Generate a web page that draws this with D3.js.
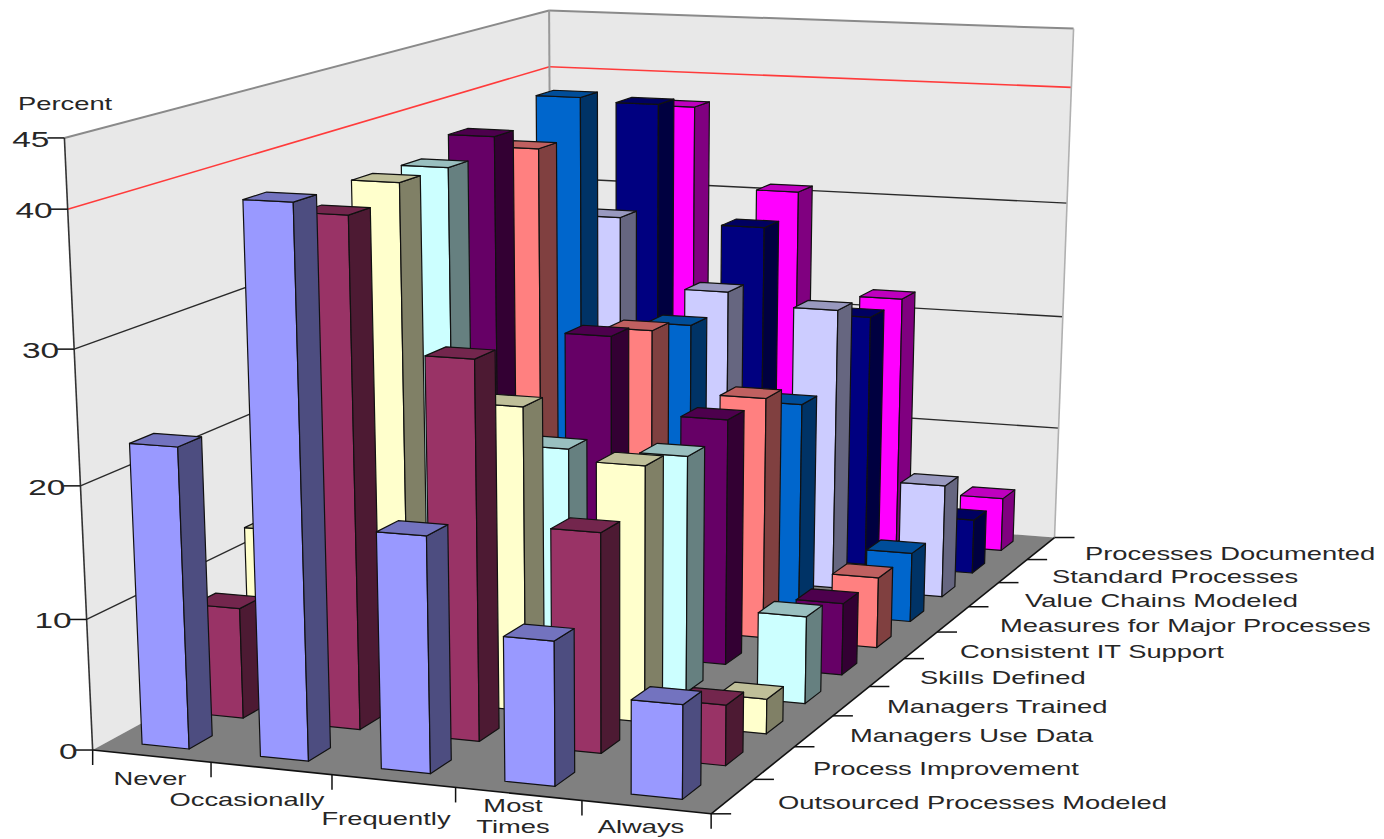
<!DOCTYPE html>
<html><head><meta charset="utf-8">
<script src="https://cdn.jsdelivr.net/npm/d3@7/dist/d3.min.js"></script>
<style>html,body{margin:0;background:#fff}svg{display:block}text{font-family:"Liberation Sans",Arial,sans-serif;fill:#262626}</style>
</head><body><svg id="c" width="1384" height="839"></svg>
<script>
const categories=["Never","Occasionally","Frequently","Most Times","Always"];
const rows=["Outsourced Processes Modeled","Process Improvement","Managers Use Data","Managers Trained","Skills Defined","Consistent IT Support","Measures for Major Processes","Value Chains Modeled","Standard Processes","Processes Documented"];
const colors=["#9999FF","#993366","#FFFFCC","#CCFFFF","#660066","#FF8080","#0066CC","#CCCCFF","#000080","#FF00FF"];
const valueTicks=[0,10,20,30,40,45];

// Percent of respondents per answer, one list per practice
const outsourced=[22.8,40.9,17.7,10.8,7.0];
const improvement=[8.6,38.7,28.8,16.7,4.6];
const useData=[12.6,39.8,23.6,19.8,2.7];
const trained=[16,39.7,18.6,18.7,6.9];
const skills=[7,40.9,25.8,19.8,5.8];
const itSupport=[11,38.8,24.7,19.8,5.8];
const measures=[11,41.8,23.6,17.6,5.8];
const valueChains=[11,30.7,24.9,23.9,9.6];
const standard=[1,39.1,29.0,21.8,4.7];
const documented=[1,37.8,30.8,21.9,4.7];
const series=[outsourced,improvement,useData,trained,skills,itSupport,measures,valueChains,standard,documented];

// Box coordinates (category, depth, percent) and where they land on screen;
// the camera matrix is fitted to these by least squares.
const cameraAnchors=[[0,0,0,93,751],[0,0,10,89,618],[0,0,20,84,484],[0,0,30,76,350],[0,0,40,66.5,209],[0,0,45,62.5,138],
[0,10,45,549,10],[0,10,40,549,66],[5,10,45,1075,28],[5,10,40,1072,88],[5,10,30,1066,205],[5,10,20,1061,318],[5,10,10,1057,428],[5,10,0,1056,537],
[1,0,0,208,765],[2,0,0,331,776],[3,0,0,453,788],[4,0,0,580,800],[5,0,0,707,813],
[5,1,0,767,778],[5,2,0,793,746],[5,3,0,832,717],[5,4,0,867,686],[5,5,0,902,658],[5,6,0,936,632],[5,7,0,969,607],[5,8,0,1000,582],[5,9,0,1029,559]];

function fitCamera(pts){
  const n=11,A=Array.from({length:n},()=>Array(n+1).fill(0));
  const add=(r,b)=>{for(let i=0;i<n;i++){for(let j=0;j<n;j++)A[i][j]+=r[i]*r[j];A[i][n]+=r[i]*b;}};
  pts.forEach(([X,Y,Z,x,y])=>{X/=5;Y/=10;Z/=45;x/=1000;y/=1000;
    add([X,Y,Z,1,0,0,0,0,-x*X,-x*Y,-x*Z],x);
    add([0,0,0,0,X,Y,Z,1,-y*X,-y*Y,-y*Z],y);});
  for(let i=0;i<n;i++){
    let p=i;for(let k=i+1;k<n;k++)if(Math.abs(A[k][i])>Math.abs(A[p][i]))p=k;
    [A[i],A[p]]=[A[p],A[i]];
    for(let k=0;k<n;k++)if(k!==i){const f=A[k][i]/A[i][i];for(let j=i;j<=n;j++)A[k][j]-=f*A[i][j];}
  }
  return A.map((r,i)=>r[n]/r[i]);
}
const cam=fitCamera(cameraAnchors);
function proj(X,Y,Z){
  X/=5;Y/=10;Z/=45;
  const w=cam[8]*X+cam[9]*Y+cam[10]*Z+1;
  return [1000*(cam[0]*X+cam[1]*Y+cam[2]*Z+cam[3])/w,1000*(cam[4]*X+cam[5]*Y+cam[6]*Z+cam[7])/w];
}
const poly=a=>a.map(p=>proj(...p).join(",")).join(" ");

const xBand=d3.scaleBand(categories,[-.02,4.98]).paddingInner(.6).paddingOuter(.3);
const depthBand=d3.scaleBand(rows,[0,10]).paddingInner(.58).paddingOuter(.29);
const svg=d3.select("#c");

// Walls and floor
const wallFill="#E8E8E8",edge="#8a8a8a";
svg.append("polygon").attr("points",poly([[0,0,0],[0,10,0],[0,10,45],[0,0,45]])).attr("fill",wallFill);
svg.append("polygon").attr("points",poly([[0,10,0],[5,10,0],[5,10,45],[0,10,45]])).attr("fill",wallFill);
svg.append("polygon").attr("points",poly([[0,0,0],[5,0,0],[5,10,0],[0,10,0]])).attr("fill","#808080");

const seg=(a,b,stroke,w)=>{const p=proj(...a),q=proj(...b);
  svg.append("line").attr("x1",p[0]).attr("y1",p[1]).attr("x2",q[0]).attr("y2",q[1]).attr("stroke",stroke).attr("stroke-width",w);};

// Wall gridlines; the 40% line is the red reference level
valueTicks.filter(v=>v>0&&v<45).forEach(v=>{
  const c=v===40?"#FF3B3B":"#2a2a2a",w=v===40?1.6:1.4;
  seg([0,0,v],[0,10,v],c,w);
  seg([0,10,v],[5,10,v],c,w);
});
seg([0,0,45],[0,10,45],edge,2);
seg([0,10,45],[5,10,45],edge,2);
seg([0,10,0],[0,10,45],"#999",2);
seg([5,10,0],[5,10,45],"#b0b0b0",1.6);
seg([0,0,0],[0,0,45],"#333",1.6);
seg([0,0,0],[5,0,0],"#111",1.6);
seg([5,0,0],[5,10,0],"#111",1.6);

// Bars, painted from the back row forward
d3.range(rows.length-1,-1,-1).forEach(j=>{
  const base=d3.rgb(colors[j]),shade=k=>d3.rgb(base.r*k,base.g*k,base.b*k).formatHex();
  const y0=depthBand(rows[j]),y1=y0+depthBand.bandwidth();
  const g=svg.append("g").attr("class","row");
  categories.forEach((cat,i)=>{
    const v=series[j][i],x0=xBand(cat),x1=x0+xBand.bandwidth();
    [[[[x0,y0,0],[x1,y0,0],[x1,y0,v],[x0,y0,v]],1],
     [[[x1,y0,0],[x1,y1,0],[x1,y1,v],[x1,y0,v]],.5],
     [[[x0,y0,v],[x1,y0,v],[x1,y1,v],[x0,y1,v]],.75]].forEach(([face,k])=>
      g.append("polygon").attr("points",poly(face)).attr("fill",shade(k)).attr("stroke","#111").attr("stroke-width",1.2).attr("stroke-linejoin","round"));
  });
});

// Wide, stretched lettering used throughout the chart
const stretch=1.52;
const label=(x,y,t,size,anchor)=>svg.append("text")
  .attr("transform",`translate(${x},${y}) scale(${stretch},1)`)
  .attr("dy",".36em").attr("text-anchor",anchor||"start").style("font-size",size+"px").text(t);

const tick=(p,dx,dy)=>svg.append("line").attr("x1",p[0]).attr("y1",p[1]).attr("x2",p[0]+dx).attr("y2",p[1]+dy).attr("stroke","#111").attr("stroke-width",1.5);

// Value axis
valueTicks.forEach(v=>{
  const p=proj(0,0,v);
  tick(p,-17,0);
  label(p[0]-15,p[1]+1,String(v),22,"end");
});
label(18,104,"Percent",18);

// Category axis along the front floor edge
d3.range(0,6).forEach(i=>tick(proj(i,0,0),0,15));
const categoryLabelAt=[[150,779],[247,800],[386,819],[513,816],[641,827]];
categories.forEach((c,i)=>{
  const [x,y]=categoryLabelAt[i];
  if(c==="Most Times"){label(x,y-10,"Most",18,"middle");label(x,y+11,"Times",18,"middle");}
  else label(x,y,c,18,"middle");
});

// Depth axis along the right floor edge
d3.range(0,11).forEach(j=>tick(proj(5,j,0),20,0));
const rowLabelAt=[[778,803],[813,769],[850,736],[887,707],[920,678],[960,652],[1000,626],[1025,601],[1052,577],[1085,554]];
rows.forEach((r,j)=>label(rowLabelAt[j][0],rowLabelAt[j][1],r,18));
</script></body></html>
